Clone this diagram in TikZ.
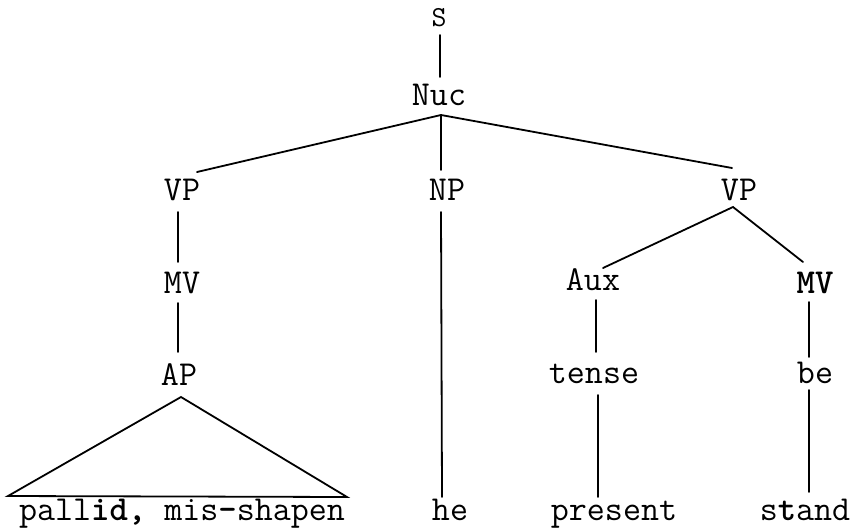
\documentclass[tikz,border=0pt]{standalone}
\begin{document}
\begin{tikzpicture}[x=1pt,y=-1pt,
  lbl/.style={anchor=base,inner sep=0pt,font=\fontsize{35}{35}\selectfont\ttfamily},
  small/.style={anchor=base,inner sep=0pt,font=\fontsize{29}{29}\selectfont\ttfamily},
  edge/.style={line width=1.8pt,line cap=round,line join=miter}]
\useasboundingbox (0,0) rectangle (858,530);
\fill[white] (0,0) rectangle (858,530);
% nodes
\node[small] (S) at (439,26) {S};
\node[lbl] (Nuc) at (439,105) {Nuc};
\node[lbl] (VPa) at (182,200) {VP};
\node[lbl] (NP) at (447,200) {NP};
\node[lbl] (VPb) at (739,200) {VP};
\node[lbl] (MVa) at (182,293) {MV};
\node[lbl] (Aux) at (593,290) {Aux};
\node[lbl] (MVb) at (815,293) {\bfseries MV};
\node[lbl] (AP) at (179,385) {AP};
\node[lbl] (tense) at (594,383) {tense};
\node[lbl] (be) at (815,383) {be};
\node[lbl] (pallid) at (182,520) {pall\textbf{id,} mis\textbf{-}shapen};
\node[lbl] (he) at (450,520) {he};
\node[lbl] (present) at (614,520) {present};
\node[lbl] (stand) at (805,520) {s\textbf{t}and};
% connector end points
\coordinate (sB) at (440,35); \coordinate (nucT) at (440,77);
\coordinate (nucJ) at (441,115);
\coordinate (vpaT) at (197,172);
\coordinate (npT) at (441,170); \coordinate (npB) at (441,212);
\coordinate (heT) at (442,497);
\coordinate (vpbT) at (732,168);
\coordinate (vpaB) at (178,212); \coordinate (mvaT) at (178,262);
\coordinate (mvaB) at (178,303); \coordinate (apT) at (178,352);
\coordinate (apJ) at (181,397); \coordinate (pL) at (8,496); \coordinate (pR) at (347,497);
\coordinate (vpbJ) at (733,207); \coordinate (auxT) at (603,268); \coordinate (mvbT) at (803,262);
\coordinate (auxB) at (596,300); \coordinate (tenseT) at (596,352);
\coordinate (tenseB) at (598,395); \coordinate (presT) at (598,497);
\coordinate (mvbB) at (809,302); \coordinate (beT) at (809,357);
\coordinate (beB) at (809,390); \coordinate (standT) at (809,492);
% connectors
\draw[edge] (sB) -- (nucT);
\draw[edge] (vpaT) -- (nucJ) -- (vpbT);
\draw[edge] (nucJ) -- (npT);
\draw[edge] (npB) -- (heT);
\draw[edge] (vpaB) -- (mvaT);
\draw[edge] (mvaB) -- (apT);
\draw[edge] (pL) -- (apJ) -- (pR) -- cycle;
\draw[edge] (auxT) -- (vpbJ) -- (mvbT);
\draw[edge] (auxB) -- (tenseT);
\draw[edge] (tenseB) -- (presT);
\draw[edge] (mvbB) -- (beT);
\draw[edge] (beB) -- (standT);
\end{tikzpicture}
\end{document}
